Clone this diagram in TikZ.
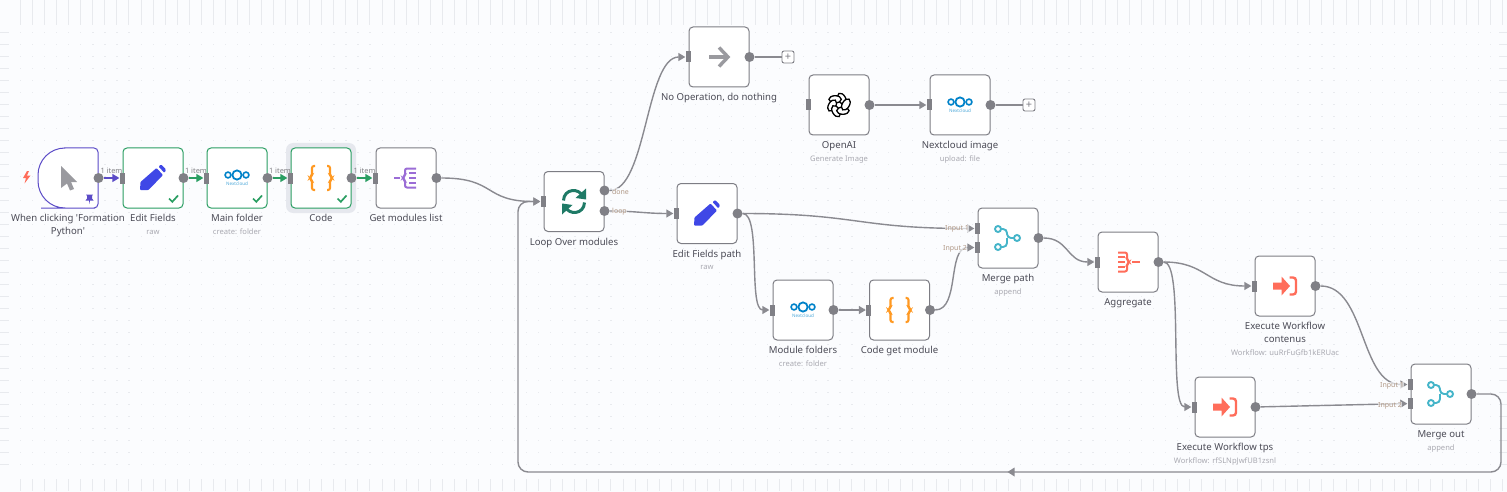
\documentclass[tikz,border=0pt]{standalone}
\usepackage{fontspec}
\setmainfont{Noto Sans}
\usetikzlibrary{arrows.meta, positioning}

\definecolor{bgpage}{HTML}{FBFCFE}
\definecolor{griddot}{HTML}{E8EAEE}
\definecolor{boxline}{HTML}{7D7D84}
\definecolor{portgray}{HTML}{808086}
\definecolor{linkgray}{HTML}{8A8A90}
\definecolor{titlegray}{HTML}{4A4A55}
\definecolor{subgray}{HTML}{A9A9B1}
\definecolor{portlabel}{HTML}{B09886}
\definecolor{okgreen}{HTML}{2A9E62}
\definecolor{trigpurple}{HTML}{5B4BC7}
\definecolor{ringgray}{HTML}{E6E8EE}
\definecolor{iconblue}{HTML}{3F47E6}
\definecolor{cloudblue}{HTML}{0082C9}
\definecolor{codeorange}{HTML}{FF9922}
\definecolor{splitpurple}{HTML}{9B6DD6}
\definecolor{icongray}{HTML}{9A9A9F}
\definecolor{syncgreen}{HTML}{1F7A66}
\definecolor{mergeteal}{HTML}{45B5C9}
\definecolor{execred}{HTML}{FF6D5A}

\tikzset{
    boxnode/.style={draw=boxline, fill=white, line width=1pt, rounded corners=4pt,
        minimum size=60pt, inner sep=0pt},
    inport/.style={fill=portgray, minimum width=5pt, minimum height=11pt, inner sep=0pt},
    outport/.style={circle, fill=portgray, minimum size=10pt, inner sep=0pt},
    plusbox/.style={draw=boxline, fill=white, line width=0.9pt, rounded corners=2pt,
        minimum size=12pt, inner sep=0pt, text=boxline, font=\fontsize{11}{11}\selectfont},
    titletext/.style={text=titlegray, align=center, inner sep=0pt, text height=7.5pt, text depth=2.5pt,
        font=\fontsize{9.6}{13}\selectfont},
    twolines/.style={text height=20.5pt},
    subtext/.style={text=subgray, align=center, inner sep=0pt, text height=6pt, text depth=2pt,
        font=\fontsize{7.6}{10}\selectfont},
    portname/.style={text=portlabel, inner sep=0.5pt, fill=bgpage, fill opacity=0.65, text opacity=1,
        font=\fontsize{7}{9}\selectfont},
    link/.style={draw=linkgray, line width=1.4pt,
        -{Triangle[length=7pt,width=8pt]}},
    plainlink/.style={draw=linkgray, line width=1.4pt},
    itemlabel/.style={text=icongray!85!black, inner sep=0pt, font=\fontsize{7.4}{10}\selectfont},
    cursoricon/.pic={
        \fill[icongray] (-7,-12) -- (9,4) -- (3,4) -- (6,11) -- (2,12.5) -- (-1,5.5) -- (-7,10) -- cycle;
    },
    pencilicon/.pic={
        \fill[iconblue, rounded corners=0.8pt] (-13,12) -- (-12.5,4) -- (3.5,-10) -- (10,-3) -- (-4.5,12) -- cycle;
        \fill[iconblue, rounded corners=1pt] (5.5,-11.5) -- (8,-13.5) -- (13,-8.5) -- (11.5,-5) -- cycle;
    },
    cloudicon/.pic={
        \draw[cloudblue, line width=1.6pt] (-9,-3) circle (2.9);
        \draw[cloudblue, line width=1.6pt] (9,-3) circle (2.9);
        \draw[cloudblue, line width=1.8pt] (0,-3) circle (4.6);
        \node[text=cloudblue!70, inner sep=0pt, font=\fontsize{4.6}{5}\selectfont] at (0,5.5) {Nextcloud};
    },
    bracesicon/.pic={
        \draw[codeorange, line width=2.1pt, rounded corners=2pt] (-6,-12) -- (-9,-12) -- (-9,-2) -- (-11.5,0) -- (-9,2) -- (-9,12) -- (-6,12);
        \draw[codeorange, line width=2.1pt, rounded corners=2pt] (6,-12) -- (9,-12) -- (9,-2) -- (11.5,0) -- (9,2) -- (9,12) -- (6,12);
    },
    spliticon/.pic={
        \draw[splitpurple, line width=2pt] (-12,0) -- (-6,0);
        \draw[splitpurple, line width=2pt, rounded corners=2pt] (10,-9.5) -- (-1,-9.5) -- (-1,-2) -- (-3.5,0) -- (-1,2) -- (-1,9.5) -- (10,9.5);
        \foreach \y in {-5,0,5} \draw[splitpurple, line width=2pt] (3,\y) -- (10,\y);
    },
    arrowicon/.pic={
        \draw[icongray, line width=3.4pt] (-10,0) -- (8,0);
        \draw[icongray, line width=3.4pt] (0,-9.5) -- (9,0) -- (0,9.5);
    },
    syncicon/.pic={
        \draw[syncgreen, line width=3pt] (-10.5,-1) .. controls (-10,-13) and (5,-14) .. (9,-5);
        \fill[syncgreen] (12,-13) -- (12,-2) -- (1.5,-3.5) -- cycle;
        \draw[syncgreen, line width=3pt] (10.5,1) .. controls (10,13) and (-5,14) .. (-9,5);
        \fill[syncgreen] (-12,13) -- (-12,2) -- (-1.5,3.5) -- cycle;
    },
    knoticon/.pic={
        \foreach \a in {0,60,...,300}
            \draw[black, fill=white, line width=1.3pt, rotate=\a] (3,-6.2) ellipse [x radius=3.6, y radius=6.2, rotate=30];
    },
    mergeicon/.pic={
        \draw[mergeteal, line width=1.9pt] (-10,-9) circle (3);
        \draw[mergeteal, line width=1.9pt] (-10,9) circle (3);
        \draw[mergeteal, line width=1.9pt] (9,0) circle (3);
        \draw[mergeteal, line width=1.9pt, rounded corners=4pt] (-7,-9) -- (-1,-9) -- (-1,0) -- (6,0);
        \draw[mergeteal, line width=1.9pt, rounded corners=4pt] (-7,9) -- (-1,9) -- (-1,0);
    },
    collecticon/.pic={
        \draw[execred, line width=2pt] (4,0) -- (12,0);
        \draw[execred, line width=2pt, rounded corners=2pt] (-10,-9.5) -- (-1,-9.5) -- (-1,-2) -- (1.5,0) -- (-1,2) -- (-1,9.5) -- (-10,9.5);
        \foreach \y in {-5,0,5} \draw[execred, line width=2pt] (-10,\y) -- (-3.5,\y);
    },
    execicon/.pic={
        \fill[execred] (-12,-3.5) -- (-3.5,-3.5) -- (-3.5,-9.5) -- (5,0) -- (-3.5,9.5) -- (-3.5,3.5) -- (-12,3.5) -- cycle;
        \draw[execred, line width=2.4pt, rounded corners=3pt] (4.5,-8.5) -- (11,-8.5) -- (11,8.5) -- (4.5,8.5);
    },
    checkicon/.pic={
        \draw[okgreen, line width=1.7pt] (-4.5,0) -- (-1.2,3.3) -- (4.5,-3);
    },
}

\begin{document}
\begin{tikzpicture}[x=1pt, y=-1pt]

\useasboundingbox (0,0) rectangle (1507,492);
\fill[bgpage] (0,0) rectangle (1507,492);

% canvas dots and the bands at the edges
\foreach \i in {0,...,123} {
    \pgfmathsetmacro{\gx}{20+12.05*\i}
    \fill[griddot] (\gx,0) rectangle +(1,25);
    \fill[griddot] (\gx,479) rectangle +(1,12);
    \foreach \k in {0,...,36}
        \fill[griddot] (\gx,32+12*\k) rectangle +(1.2,1.2);
}
\foreach \k in {0,...,36} {
    \fill[griddot] (0,32+12*\k) rectangle (9,33+12*\k);
    \fill[griddot] (1499,32+12*\k) rectangle (1507,33+12*\k);
}

% nodes
\node[boxnode, draw=none, fill=none] (trigger) at (68,178) {};
\draw[trigpurple, fill=white, line width=1pt, rounded corners=27pt]
    (68,148) -- (38,148) -- (38,208) -- (68,208)
    [rounded corners=4pt] -- (98,208) -- (98,148) -- cycle;
\node[boxnode, draw=okgreen] (editfields) at (153,178) {};
\node[boxnode, draw=okgreen] (mainfolder) at (237,178) {};
\node[fill=ringgray, rounded corners=7pt, minimum size=70pt] (codering) at (321,178) {};
\node[boxnode, draw=okgreen] (code) at (321,178) {};
\node[boxnode] (getmodules) at (406,178) {};
\node[boxnode] (loopover) at (574,201.5) {};
\node[boxnode] (noop) at (719,57) {};
\node[boxnode] (openai) at (839,105) {};
\node[boxnode] (cloudimage) at (960,105) {};
\node[boxnode] (editpath) at (707,213.5) {};
\node[boxnode] (mergepath) at (1008,238) {};
\node[boxnode] (aggregate) at (1128,262) {};
\node[boxnode] (modulefolders) at (803,310) {};
\node[boxnode] (codeget) at (899.5,310) {};
\node[boxnode] (execcontent) at (1285,286) {};
\node[boxnode] (exectps) at (1225,407) {};
\node[boxnode] (mergeout) at (1441,394) {};

% ports
\foreach \n in {editfields,mainfolder,code,getmodules,loopover,noop,openai,cloudimage,
                editpath,aggregate,modulefolders,codeget,execcontent,exectps}
    \node[inport] (\n in) at ([xshift=-0.5pt]\n.west) {};
\foreach \n in {trigger,editfields,mainfolder,code,getmodules,noop,openai,cloudimage,
                editpath,mergepath,aggregate,modulefolders,codeget,execcontent,exectps,mergeout}
    \node[outport] (\n out) at (\n.east) {};
\foreach \n in {mergepath,mergeout} {
    \node[inport] (\n ina) at ([xshift=-0.5pt,yshift=9.5pt]\n.west) {};
    \node[inport] (\n inb) at ([xshift=-0.5pt,yshift=-9.5pt]\n.west) {};
}
\node[outport] (loopdone) at ([yshift=11pt]loopover.east) {};
\node[outport] (loopnext) at ([yshift=-9.5pt]loopover.east) {};
\node[plusbox] (noopplus) at (788,57) {+};
\node[plusbox] (cloudplus) at (1029,105) {+};

% icons
\pic at (trigger) {cursoricon};
\pic at (editfields) {pencilicon};
\pic at (mainfolder) {cloudicon};
\pic at (code) {bracesicon};
\pic at (getmodules) {spliticon};
\pic at (loopover) {syncicon};
\pic at (noop) {arrowicon};
\pic at (openai) {knoticon};
\pic at (cloudimage) {cloudicon};
\pic at (editpath) {pencilicon};
\pic at (mergepath) {mergeicon};
\pic at (aggregate) {collecticon};
\pic at (modulefolders) {cloudicon};
\pic at (codeget) {bracesicon};
\pic at (execcontent) {execicon};
\pic at (exectps) {execicon};
\pic at (mergeout) {mergeicon};
\pic at (173.5,198.5) {checkicon};
\pic at (257.5,198.5) {checkicon};
\pic at (342,198.5) {checkicon};
\fill[execred] (27,171) -- (23,178) -- (26,178) -- (24.5,183.5) -- (30.5,175.5) -- (27,175.5) -- (29,171) -- cycle;
\fill[trigpurple] (86,194.5) -- (93,194.5) -- (92,196) -- (92,198.5) -- (93.5,200.5) -- (90,200.5) -- (89.5,204) -- (89,200.5) -- (85.5,200.5) -- (87,198.5) -- (87,196) -- cycle;

% titles
\node[titletext, twolines, below=5.5pt of trigger] (triggertitle) {When clicking \textquotesingle Formation\\Python\textquotesingle};
\node[titletext, below=5.5pt of editfields] (editfieldstitle) {Edit Fields};
\node[subtext, below=3.5pt of editfieldstitle] (editfieldssub) {raw};
\node[titletext, below=5.5pt of mainfolder] (mainfoldertitle) {Main folder};
\node[subtext, below=3.5pt of mainfoldertitle] (mainfoldersub) {create: folder};
\node[titletext, below=5.5pt of code] (codetitle) {Code};
\node[titletext, below=5.5pt of getmodules] (getmodulestitle) {Get modules list};
\node[titletext, below=5.5pt of loopover] (looptitle) {Loop Over modules};
\node[titletext, below=5.5pt of noop] (nooptitle) {No Operation, do nothing};
\node[titletext, below=5.5pt of openai] (openaititle) {OpenAI};
\node[subtext, below=3.5pt of openaititle] (openaisub) {Generate Image};
\node[titletext, below=5.5pt of cloudimage] (cloudimagetitle) {Nextcloud image};
\node[subtext, below=3.5pt of cloudimagetitle] (cloudimagesub) {upload: file};
\node[titletext, below=5.5pt of editpath] (editpathtitle) {Edit Fields path};
\node[subtext, below=3.5pt of editpathtitle] (editpathsub) {raw};
\node[titletext, below=5.5pt of mergepath] (mergepathtitle) {Merge path};
\node[subtext, below=3.5pt of mergepathtitle] (mergepathsub) {append};
\node[titletext, below=5.5pt of aggregate] (aggregatetitle) {Aggregate};
\node[titletext, below=5.5pt of modulefolders] (modulefolderstitle) {Module folders};
\node[subtext, below=3.5pt of modulefolderstitle] (modulefolderssub) {create: folder};
\node[titletext, below=5.5pt of codeget] (codegettitle) {Code get module};
\node[titletext, twolines, below=5.5pt of execcontent] (execcontenttitle) {Execute Workflow\\contenus};
\node[subtext, below=3.5pt of execcontenttitle] (execcontentsub) {Workflow: uuRrFuGfb1kERUac};
\node[titletext, below=5.5pt of exectps] (exectpstitle) {Execute Workflow tps};
\node[subtext, below=3.5pt of exectpstitle] (exectpssub) {Workflow: rfSLNpJwfUB1zsnl};
\node[titletext, below=5.5pt of mergeout] (mergeouttitle) {Merge out};
\node[subtext, below=3.5pt of mergeouttitle] (mergeoutsub) {append};

% links
\draw[link, draw=trigpurple] (triggerout) -- node[itemlabel, above=3.5pt, pos=0.5] (itema) {1 item} (editfieldsin);
\draw[link, draw=okgreen] (editfieldsout) -- node[itemlabel, above=3.5pt, pos=0.5] (itemb) {1 item} (mainfolderin);
\draw[link, draw=okgreen] (mainfolderout) -- node[itemlabel, above=3.5pt, pos=0.5] (itemc) {1 item} (codein);
\draw[link, draw=okgreen] (codeout) -- node[itemlabel, above=3.5pt, pos=0.5] (itemd) {1 item} (getmodulesin);
\draw[link] (getmodulesout) .. controls +(60,0) and +(-60,0) .. (loopoverin);
\draw[link] (loopdone) .. controls +(42,0) and +(-42,0) .. (noopin);
\draw[link] (loopnext) .. controls +(30,0) and +(-30,0) .. (editpathin);
\draw[plainlink] (noopout) -- (noopplus);
\draw[link] (openaiout) -- (cloudimagein);
\draw[plainlink] (cloudimageout) -- (cloudplus);
\draw[link] (editpathout) .. controls +(120,0) and +(-120,0) .. (mergepathina);
\draw[link] (editpathout) .. controls +(24,0) and +(-24,0) .. (modulefoldersin);
\draw[link] (modulefoldersout) -- (codegetin);
\draw[link] (codegetout) .. controls +(30,0) and +(-30,0) .. (mergepathinb);
\draw[link] (mergepathout) .. controls +(30,0) and +(-30,0) .. (aggregatein);
\draw[link] (aggregateout) .. controls +(48,0) and +(-48,0) .. (execcontentin);
\draw[link] (aggregateout) .. controls +(26,0) and +(-26,0) .. (exectpsin);
\draw[link] (execcontentout) .. controls +(50,0) and +(-50,0) .. (mergeoutina);
\draw[link] (exectpsout) -- (mergeoutinb);

% way back into the loop
\coordinate (backa) at (1501,394);
\coordinate (backb) at (1501,472);
\coordinate (backc) at (518,472);
\coordinate (backd) at (518,201.5);
\draw[link, rounded corners=10pt] (mergeoutout) -- (backa) -- (backb) -- (backc) -- (backd) -- (loopoverin);
\fill[linkgray] (1014.5,467.5) -- (1014.5,476.5) -- (1007.5,472) -- cycle;

% port labels
\node[portname] (donelabel) at (620.5,191.5) {done};
\node[portname] (nextlabel) at (619.5,211.5) {loop};
\node[portname] (inputa) at (957,228.5) {Input 1};
\node[portname] (inputb) at (955,249) {Input 2};
\node[portname] (inputc) at (1392,385.5) {Input 1};
\node[portname] (inputd) at (1390,405.5) {Input 2};

\end{tikzpicture}
\end{document}
